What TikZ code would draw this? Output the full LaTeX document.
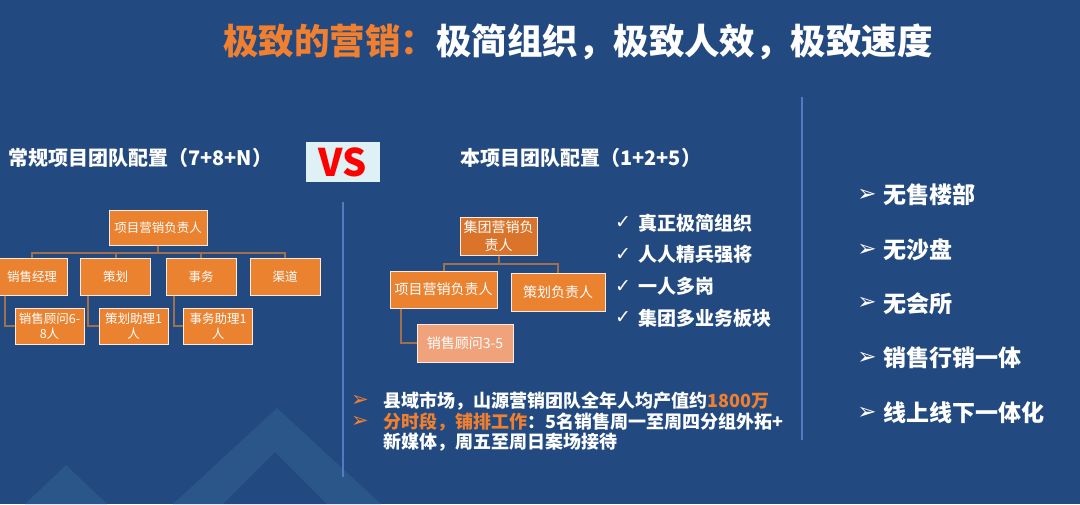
\documentclass[tikz,border=0pt]{standalone}
\usepackage{fontspec}
\setmainfont{Noto Sans CJK SC}
\newfontfamily\symfont{DejaVu Sans}
\usepackage{xcolor}
\usetikzlibrary{positioning, calc}
\definecolor{BgBlue}{RGB}{35,74,128}
\definecolor{HillBlue}{RGB}{43,86,138}
\definecolor{LineBlue}{RGB}{84,122,192}
\definecolor{BoxOrange}{RGB}{234,130,48}
\definecolor{BoxDark}{RGB}{217,116,42}
\definecolor{BoxLight}{RGB}{240,163,122}
\definecolor{LinkBrown}{RGB}{160,112,76}
\definecolor{HotOrange}{RGB}{240,128,48}
\definecolor{VsRed}{RGB}{255,0,0}
\definecolor{VsBg}{RGB}{222,242,245}
\newcommand{\px}[2][]{\fontsize{#2}{\ifx\relax#1\relax#2\else#1\fi}\selectfont}

\begin{document}
\begin{tikzpicture}[x=1pt, y=-1pt,
            orgbox/.style={rectangle, draw=white!85!BoxOrange, line width=1pt,
                           fill=BoxOrange, text=white, inner sep=0pt, align=center},
            smallbox/.style={orgbox, font=\px[14.5]{12.5}, minimum height=36pt},
            bigbox/.style={orgbox, font=\px[18]{14}, minimum height=38pt},
            link/.style={draw=LinkBrown, line width=2pt},
            divider/.style={draw=LineBlue, line width=1.6pt},
            header/.style={font=\px{20}\bfseries, text=white, anchor=west, inner sep=0pt},
            point/.style={font=\px{19}\bfseries, text=white, anchor=west, inner sep=0pt},
            note/.style={font=\px[20]{18}\bfseries, text=white, anchor=west, inner sep=0pt, align=left},
            item/.style={font=\px{23}\bfseries, text=white, anchor=west, inner sep=0pt}
          ]
          % background and hills
          \fill[BgBlue] (0,0) rectangle (1080,504);
          \useasboundingbox (0,0) rectangle (1080,504);
          \fill[HillBlue, even odd rule] (173,504) -- (277,408) -- (381,504) -- cycle
                                         (223,504) -- (275,452) -- (327,504) -- cycle;
          \fill[HillBlue] (25,504) -- (66,465) -- (107,504) -- cycle;

          % title
          \node[font=\px{35.5}\bfseries, inner sep=0pt] (title) at (578,42)
                {\textcolor{HotOrange}{极致的营销：}\textcolor{white}{极简组织，极致人效，极致速度}};

          % dividers
          \draw[divider] (343,202) -- (343,477);
          \draw[divider] (802,97) -- (802,440);

          % headers
          \node[header] (lefthead) at (8,158) {常规项目团队配置（7+8+N）};
          \node[header] (righthead) at (460,158) {本项目团队配置（1+2+5）};
          \node[rectangle, fill=VsBg, minimum width=74pt, minimum height=40pt,
                inner sep=0pt, font=\px{38}\bfseries, text=VsRed] (vs) at (343,162) {VS};

          % conventional team (7+8+N)
          \node[smallbox, minimum width=98pt, minimum height=35pt] (lhead) at (158,227.5) {项目营销负责人};
          \foreach \n/\x/\t in {mgr/32/销售经理, plan/115.5/策划, affair/201/事务, chan/285/渠道} {
            \node[smallbox, minimum width=70pt, minimum height=37pt] (\n) at (\x,276.5) {\t};
            \draw[link] (lhead.south) -- ++(0,7) -| (\n.north);
          }
          \foreach \n/\p/\x/\t in {adv/mgr/49.5/{销售顾问6-\\8人}, planaid/plan/133.5/{策划助理1\\人},
                                   affaid/affair/218/{事务助理1\\人}} {
            \node[smallbox, minimum width=69pt] (\n) at (\x,326) {\t};
            \draw[link] ([xshift=8pt]\p.south west) |- (\n.west);
          }

          % this project (1+2+5)
          \node[bigbox, fill=BoxDark, minimum width=77pt] (rhead) at (498.5,236) {集团营销负\\责人};
          \node[bigbox, minimum width=107pt, minimum height=37pt] (rproj) at (443.5,289.5) {项目营销负责人};
          \node[bigbox, minimum width=94pt] (rplan) at (558,292) {策划负责人};
          \node[bigbox, fill=BoxLight, minimum width=96pt] (rsales) at (465,343) {销售顾问3-5};
          \draw[link] (rhead.south) -- ++(0,8) -| (rproj.north);
          \draw[link] (rhead.south) -- ++(0,8) -| (rplan.north);
          \draw[link] ([xshift=11pt]rproj.south west) |- (rsales.west);

          % check list
          \foreach \i/\y/\t in {1/223/真正极简组织, 2/254.5/人人精兵强将, 3/286.5/一人多岗, 4/318/集团多业务板块} {
            \node[font=\symfont\px{19}, text=white, inner sep=0pt] (chk\i) at (623,\y) {✓};
            \node[point] (pt\i) at (638,\y) {\t};
          }

          % notes
          \node[font=\symfont\px{21}, text=HotOrange, inner sep=0pt] (bul1) at (360,401) {➢};
          \node[font=\symfont\px{21}, text=HotOrange, inner sep=0pt] (bul2) at (360,422) {➢};
          \node[note] (note1) at (383,401)
                {县域市场，山源营销团队全年人均产值约\textcolor{HotOrange}{1800万}};
          \node[note] (note2) at (383,432)
                {\textcolor{HotOrange}{分时段，铺排工作}：5名销售周一至周四分组外拓+\\新媒体，周五至周日案场接待};

          % right list
          \foreach \i/\y/\t in {1/195/无售楼部, 2/250/无沙盘, 3/303.5/无会所, 4/358/销售行销一体, 5/413/线上线下一体化} {
            \node[font=\symfont\px{23}, text=white, inner sep=0pt] (arw\i) at (867,\y) {➢};
            \node[item] (it\i) at (883,\y) {\t};
          }
        \end{tikzpicture}
\end{document}
